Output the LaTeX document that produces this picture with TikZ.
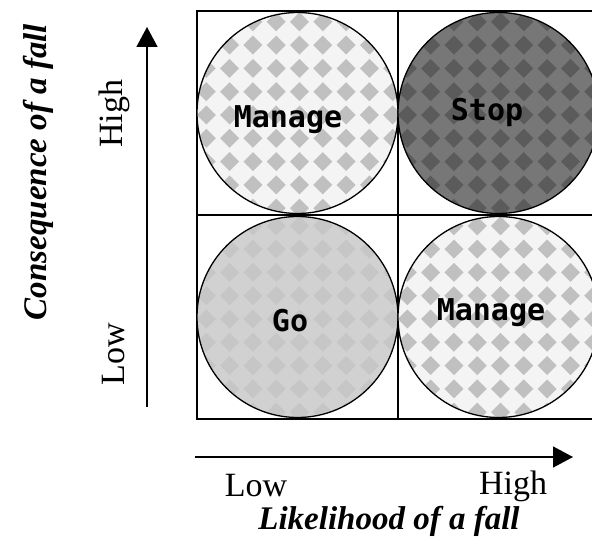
\documentclass[tikz,border=0pt]{standalone}
\usepackage{fontspec}
\setmainfont{Liberation Serif}
\newfontfamily\codefont{DejaVu Sans Mono}
\usetikzlibrary{arrows.meta}

\definecolor{lightbg}{HTML}{F4F4F4}
\definecolor{lightdm}{HTML}{C0C0C0}
\definecolor{darkbg}{HTML}{777777}
\definecolor{darkdm}{HTML}{5B5B5B}
\definecolor{midbg}{HTML}{D1D1D1}
\definecolor{middm}{HTML}{C6C6C6}

% diamond pattern inside a disc
\newcommand\diamonds[2]{%
  \fill[#1] (path picture bounding box.south west) rectangle (path picture bounding box.north east);
  \foreach \i in {-5,...,5}
    \foreach \j in {-5,...,5}
      \fill[#2] ([shift={(\i*23.3+2,\j*23.3+2)}]path picture bounding box.center)
        +(0,-9.5) -- +(9.5,0) -- +(0,9.5) -- +(-9.5,0) -- cycle;
}

\tikzset{
  axis/.style={line width=1.5pt, -{Triangle[length=20pt,width=21pt]}},
  disc/.style 2 args={circle, draw, line width=1.3pt, minimum size=201pt, inner sep=0pt,
    path picture={\diamonds{#1}{#2}}},
  verdict/.style={font=\codefont\bfseries\fontsize{30}{35}\selectfont},
  tick/.style={font=\fontsize{34}{40}\selectfont},
  title/.style={font=\bfseries\itshape\fontsize{33}{40}\selectfont}
}

\begin{document}
\begin{tikzpicture}[x=1pt, y=-1pt]
    \clip (0,0) rectangle (592,553);

    % risk grid
    \draw[line width=1.5pt] (197,11) rectangle (599,419);
    \draw[line width=1.5pt] (398,11) -- (398,419);
    \draw[line width=1.5pt] (197,215) -- (599,215);

    \node[disc={lightbg}{lightdm}] (hl) at (297.5,113) {};
    \node[disc={darkbg}{darkdm}]   (hh) at (498.5,113) {};
    \node[disc={midbg}{middm}]     (ll) at (297.5,317) {};
    \node[disc={lightbg}{lightdm}] (lh) at (498.5,317) {};

    \node[verdict] (manage1) at (288,120) {Manage};
    \node[verdict] (stop)    at (487,112) {Stop};
    \node[verdict] (go)      at (290,321) {Go};
    \node[verdict] (manage2) at (491,313) {Manage};

    % axes
    \coordinate (ybase) at (147,407);
    \coordinate (ytip)  at (147,27);
    \draw[axis] (ybase) -- (ytip);
    \coordinate (xbase) at (195,457);
    \coordinate (xtip)  at (573,457);
    \draw[axis] (xbase) -- (xtip);

    \node[tick, rotate=90] (yhigh) at (114,114) {High};
    \node[tick, rotate=90] (ylow)  at (114,354) {Low};
    \node[title, rotate=90] (ytitle) at (38,172) {Consequence of a fall};

    \node[tick] (xlow)  at (256,486) {Low};
    \node[tick] (xhigh) at (513,486) {High};
    \node[title] (xtitle) at (389,521) {Likelihood of a fall};
\end{tikzpicture}
\end{document}
